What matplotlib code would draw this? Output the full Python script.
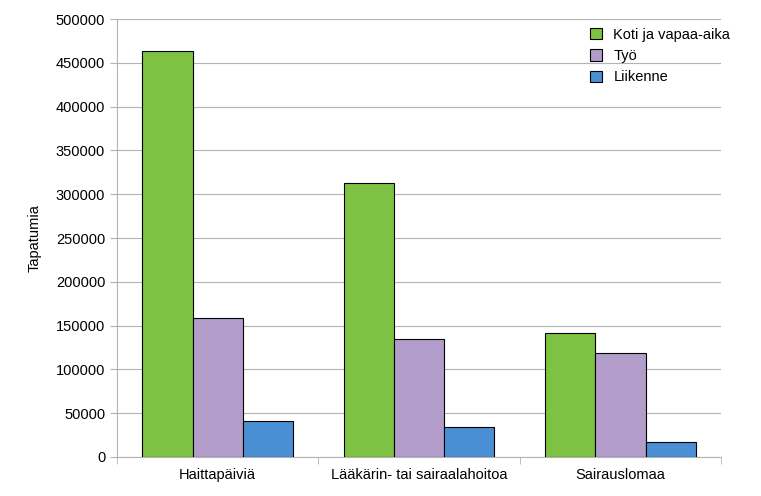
import numpy as np
import matplotlib.pyplot as plt

plt.rcParams['font.family'] = 'Liberation Sans'
plt.rcParams['font.size'] = 10.5

categories = ['Haittapäiviä', 'Lääkärin- tai sairaalahoitoa', 'Sairauslomaa']
koti = [463000, 313000, 141000]
tyo = [158500, 134500, 118500]
liikenne = [41000, 34000, 17000]

fig = plt.figure(figsize=(7.61, 4.96), dpi=100)
ax = fig.add_axes([117/761, 1-457/496, (721-117)/761, (457-19)/496])

x = np.arange(len(categories))
w = 0.25
ax.bar(x - w, koti, w, color='#7dc242', edgecolor='black', linewidth=0.8, label='Koti ja vapaa-aika', zorder=3)
ax.bar(x, tyo, w, color='#b19cca', edgecolor='black', linewidth=0.8, label='Työ', zorder=3)
ax.bar(x + w, liikenne, w, color='#4a8fd4', edgecolor='black', linewidth=0.8, label='Liikenne', zorder=3)

ax.set_xlim(-0.5, 2.5)
ax.set_ylim(0, 500000)
ax.set_yticks(np.arange(0, 500001, 50000))
ax.set_xticks(x)
ax.set_xticklabels(categories)
ax.set_xticks([-0.5, 0.5, 1.5, 2.5], minor=True)
ax.tick_params(axis='x', which='major', length=0, pad=8)
ax.tick_params(axis='x', which='minor', length=5, color='#b3b3b3')
ax.tick_params(axis='y', length=5, color='#b3b3b3')
ax.yaxis.grid(True, color='#b3b3b3', linewidth=0.8, zorder=0)
for s in ax.spines.values():
    s.set_color('#b3b3b3')
ax.spines['top'].set_visible(False)
ax.spines['right'].set_visible(False)
ax.set_ylabel('Tapatumia', labelpad=10)
ax.legend(loc='upper right', frameon=False, handlelength=0.8, handleheight=0.8,
          borderaxespad=0.2, bbox_to_anchor=(1.03, 1.0))

fig.savefig('out.png', dpi=100)
